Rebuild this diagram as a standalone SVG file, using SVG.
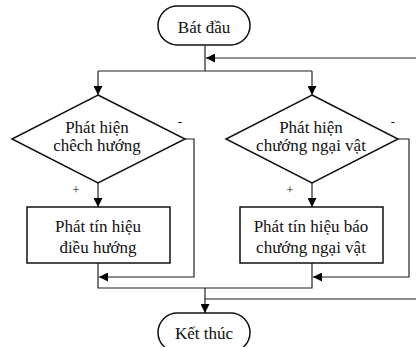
<svg xmlns="http://www.w3.org/2000/svg" width="416" height="347" viewBox="0 0 416 347">
<defs>
<marker id="arr" viewBox="0 0 10 10" refX="10" refY="5" markerWidth="9" markerHeight="9" markerUnits="userSpaceOnUse" orient="auto">
<path d="M0,0 L10,5 L0,10 z" fill="#000"/>
</marker>
</defs>
<style>
.shape{fill:#fff;stroke:#111;stroke-width:1.5}
.line{fill:none;stroke:#222;stroke-width:1.2}
.t{font-family:"Liberation Serif","Times New Roman",serif;font-size:17px;fill:#111;text-anchor:middle}
.s{font-family:"Liberation Serif","Times New Roman",serif;font-size:13px;fill:#111;text-anchor:middle}
</style>
<rect width="416" height="347" fill="#fff"/>
<g id="connectors">
<path class="line" d="M205,46 V71"/>
<path class="line" d="M98,71 H312"/>
<path class="line" d="M98,71 V95" marker-end="url(#arr)"/>
<path class="line" d="M312,71 V95" marker-end="url(#arr)"/>
<path class="line" d="M416,58 H206" marker-end="url(#arr)"/>
<path class="line" d="M98,183 V207" marker-end="url(#arr)"/>
<path class="line" d="M312,183 V207" marker-end="url(#arr)"/>
<path class="line" d="M185,139 H194 V277 H99" marker-end="url(#arr)"/>
<path class="line" d="M398,139 H409 V277 H313" marker-end="url(#arr)"/>
<path class="line" d="M98,263 V288 H312 V263"/>
<path class="line" d="M205,288 V313" marker-end="url(#arr)"/>
<path class="line" d="M205,299 H416"/>
<text class="s" x="180" y="126">-</text>
<text class="s" x="393" y="126">-</text>
<text class="s" x="76" y="194">+</text>
<text class="s" x="290" y="194">+</text>
</g>
<g id="start">
<rect class="shape" x="158" y="6" width="92" height="39" rx="19.5"/>
<text class="t" x="204" y="33">Bát đầu</text>
</g>
<g id="decision1">
<polygon class="shape" points="98,95 185,139 98,183 12,139"/>
<text class="t" x="97" y="133">Phát hiện</text>
<text class="t" x="97" y="151">chêch hướng</text>
</g>
<g id="decision2">
<polygon class="shape" points="312,95 398,139 312,183 226,139"/>
<text class="t" x="311" y="133">Phát hiện</text>
<text class="t" x="311" y="151">chướng ngại vật</text>
</g>
<g id="process1">
<rect class="shape" x="27" y="207" width="143" height="56"/>
<text class="t" x="98" y="232">Phát tín hiệu</text>
<text class="t" x="98" y="253">điều hướng</text>
</g>
<g id="process2">
<rect class="shape" x="240" y="207" width="143" height="56"/>
<text class="t" x="311" y="232">Phát tín hiệu báo</text>
<text class="t" x="311" y="253">chướng ngại vật</text>
</g>
<g id="end">
<rect class="shape" x="158" y="313" width="92" height="39" rx="19.5"/>
<text class="t" x="204" y="339">Kết thúc</text>
</g>
</svg>
